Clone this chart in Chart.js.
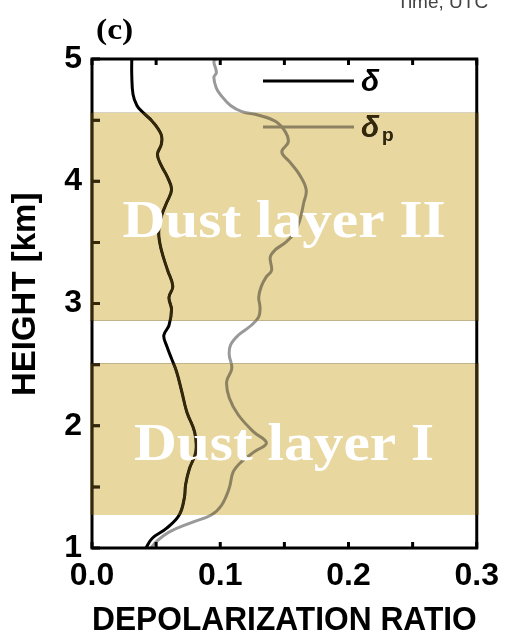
<!DOCTYPE html>
<html><head><meta charset="utf-8">
<script src="https://cdn.jsdelivr.net/npm/chart.js@4/dist/chart.umd.min.js"></script>
<style>html,body{margin:0;padding:0;background:#fff}</style>
</head><body>
<canvas id="c" width="508" height="637"></canvas>
<script>
// ---- data ----
const deltaHeights = [5.00,4.87,4.71,4.62,4.57,4.49,4.38,4.30,4.22,4.13,4.03,3.93,3.82,3.71,3.58,3.44,3.27,3.14,3.05,2.95,2.82,2.74,2.66,2.55,2.44,2.28,2.11,1.95,1.79,1.65,1.52,1.41,1.27,1.16,1.08,1.00];
const deltaValues  = [0.031,0.031,0.032,0.035,0.039,0.047,0.054,0.054,0.051,0.054,0.059,0.062,0.058,0.054,0.052,0.054,0.059,0.063,0.060,0.062,0.060,0.056,0.058,0.062,0.066,0.070,0.074,0.080,0.081,0.076,0.073,0.072,0.068,0.058,0.047,0.042];
const deltaPHeights = [5.00,4.98,4.89,4.85,4.76,4.71,4.62,4.57,4.54,4.49,4.40,4.32,4.24,4.16,4.05,3.93,3.82,3.68,3.58,3.50,3.44,3.38,3.27,3.22,3.14,3.05,2.97,2.89,2.82,2.74,2.66,2.58,2.47,2.36,2.23,2.09,1.95,1.86,1.79,1.70,1.62,1.49,1.35,1.27,1.21,1.13,1.05,1.00];
const deltaPValues  = [0.097,0.095,0.097,0.095,0.097,0.100,0.108,0.117,0.130,0.143,0.151,0.153,0.148,0.154,0.162,0.167,0.165,0.162,0.158,0.151,0.143,0.139,0.140,0.136,0.132,0.130,0.131,0.130,0.124,0.114,0.108,0.107,0.109,0.105,0.107,0.114,0.126,0.136,0.127,0.116,0.110,0.107,0.101,0.093,0.078,0.060,0.050,0.046];
const seriesNames = ['δ', 'δp'];
const xTickValues = [0, 0.1, 0.2, 0.3];
const xTickLabels = ['0.0', '0.1', '0.2', '0.3'];
const xMinorTicks = [0.05, 0.15, 0.25];
const yTickValues = [1, 2, 3, 4, 5];
const yTickLabels = ['1', '2', '3', '4', '5'];
const yMinorTicks = [1.5, 2.5, 3.5, 4.5];
const layerNames   = ['Dust layer I', 'Dust layer II'];
const layerBottoms = [1.27, 2.86];
const layerTops    = [2.51, 4.56];

const toPoints = (hs, vs) => hs.map((h, i) => ({x: vs[i], y: h}));

const decor = {
  id: 'decor',
  afterDatasetsDraw(chart) {
    const {ctx, chartArea: a, scales: {x, y}} = chart;
    ctx.save();
    ctx.strokeStyle = '#000'; ctx.lineWidth = 3;
    ctx.strokeRect(a.left, a.top, a.right - a.left, a.bottom - a.top);
    ctx.beginPath();
    [...xTickValues, ...xMinorTicks].forEach(v => {
      const px = x.getPixelForValue(v);
      ctx.moveTo(px, a.bottom); ctx.lineTo(px, a.bottom - 6);
      ctx.moveTo(px, a.top); ctx.lineTo(px, a.top + 6);
    });
    [...yTickValues, ...yMinorTicks].forEach(v => {
      const py = y.getPixelForValue(v);
      ctx.moveTo(a.left, py); ctx.lineTo(a.left + 8, py);
    });
    ctx.stroke();
    const ds = chart.data.datasets;
    const legY = [81, 127];
    ds.forEach((d, i) => {
      ctx.strokeStyle = d.borderColor; ctx.lineWidth = 3;
      ctx.beginPath(); ctx.moveTo(263, legY[i]); ctx.lineTo(354, legY[i]); ctx.stroke();
    });
    ctx.fillStyle = '#000';
    ctx.textBaseline = 'alphabetic'; ctx.textAlign = 'left';
    ctx.font = 'italic bold 30px "Liberation Sans"';
    ctx.fillText(seriesNames[0].charAt(0), 361, 91);
    ctx.fillText(seriesNames[1].charAt(0), 361, 137);
    ctx.font = 'bold 19px "Liberation Sans"';
    ctx.fillText(seriesNames[1].slice(1), 382, 141);
    ctx.restore();
  },
  afterDraw(chart) {
    const {ctx, chartArea: a, scales: {x, y}} = chart;
    ctx.save();
    layerBottoms.forEach((b, i) => {
      const top = y.getPixelForValue(layerTops[i]);
      const bot = y.getPixelForValue(b);
      const L = a.left - 2, W = a.right - a.left + 4;
      ctx.globalCompositeOperation = 'multiply';
      ctx.fillStyle = 'rgb(233,215,160)';
      ctx.fillRect(L, top, W, bot - top);
      ctx.globalCompositeOperation = 'lighten';
      ctx.fillStyle = 'rgb(52,40,6)';
      ctx.fillRect(L, top, W, bot - top);
    });
    ctx.globalCompositeOperation = 'source-over';
    const labelBase = [460, 237];
    ctx.fillStyle = '#fff';
    ctx.font = 'bold 53px "Liberation Serif"';
    ctx.textAlign = 'center'; ctx.textBaseline = 'alphabetic';
    layerNames.forEach((n, i) => {
      ctx.save();
      ctx.translate(284, labelBase[i]);
      ctx.scale(1.12, 1);
      ctx.fillText(n, 0, 0);
      ctx.restore();
    });
    ctx.fillStyle = '#000';
    ctx.font = 'bold 30px "Liberation Serif"';
    ctx.textAlign = 'left';
    ctx.save(); ctx.translate(96, 39); ctx.scale(1.12, 1); ctx.fillText('(c)', 0, 0); ctx.restore();
    ctx.fillStyle = '#444';
    ctx.font = '19px "Liberation Sans"';
    ctx.fillText('Time, UTC', 397, 8);
    ctx.restore();
  }
};

new Chart(document.getElementById('c'), {
  type: 'scatter',
  data: {
    datasets: [
      {label: seriesNames[0], data: toPoints(deltaHeights, deltaValues), showLine: true,
       borderColor: '#000', borderWidth: 3, pointRadius: 0, tension: 0.4, fill: false},
      {label: seriesNames[1], data: toPoints(deltaPHeights, deltaPValues), showLine: true,
       borderColor: '#999999', borderWidth: 3, pointRadius: 0, tension: 0.4, fill: false}
    ]
  },
  options: {
    responsive: false, animation: false,
    layout: {padding: {top: 59, right: 27, left: 0, bottom: 0}},
    plugins: {legend: {display: false}, tooltip: {enabled: false}, title: {display: false}},
    scales: {
      x: {
        type: 'linear', min: 0, max: 0.3,
        afterBuildTicks: s => { s.ticks = xTickValues.map(v => ({value: v})); },
        afterFit: s => { s.height = 89; },
        grid: {display: false, drawTicks: false},
        border: {display: false},
        ticks: {color: '#000', padding: 9, font: {family: '"Liberation Sans"', size: 32, weight: 'bold'},
                maxRotation: 0, autoSkip: false,
                callback: (v, i) => xTickLabels[i]},
        title: {display: true, text: 'DEPOLARIZATION RATIO', color: '#000',
                font: {family: '"Liberation Sans"', size: 33, weight: 'bold'}, padding: {top: 0, bottom: -4}}
      },
      y: {
        type: 'linear', min: 1, max: 5,
        afterBuildTicks: s => { s.ticks = yTickValues.map(v => ({value: v})); },
        afterFit: s => { s.width = 92; },
        grid: {display: false, drawTicks: false},
        border: {display: false},
        ticks: {color: '#000', padding: 10, font: {family: '"Liberation Sans"', size: 32, weight: 'bold'},
                autoSkip: false, callback: (v, i) => yTickLabels[i]},
        title: {display: true, text: '  HEIGHT [km]', color: '#000',
                font: {family: '"Liberation Sans"', size: 33, weight: 'bold'}, padding: {top: 6, bottom: 0}}
      }
    }
  },
  plugins: [decor]
});
</script>
</body></html>
